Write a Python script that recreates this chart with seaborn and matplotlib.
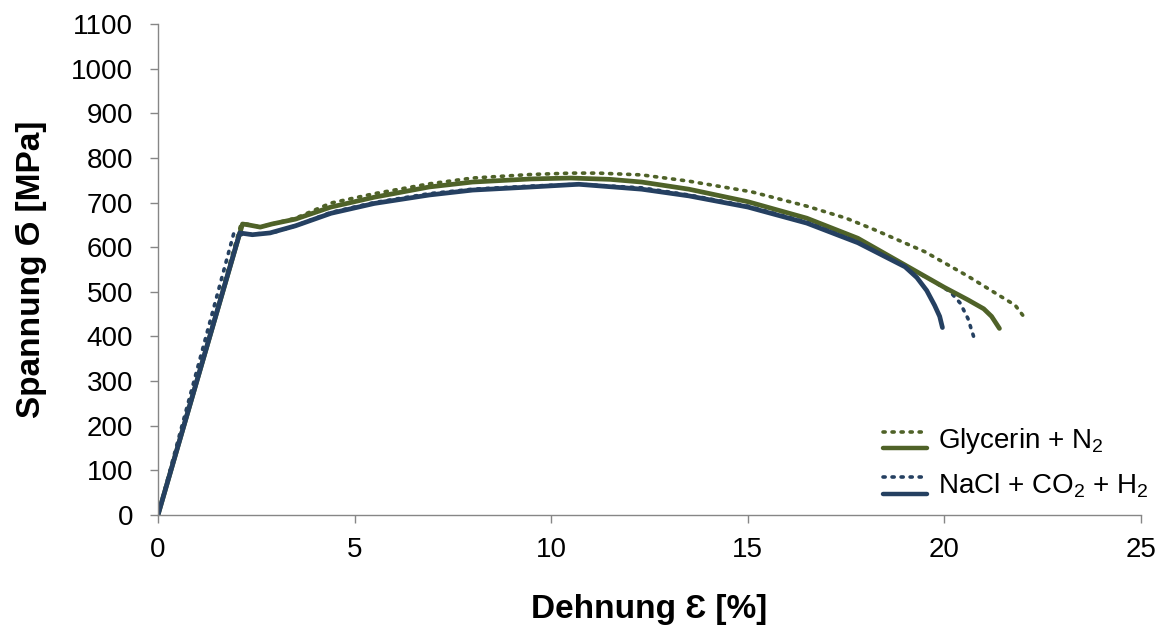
import numpy as np
import pandas as pd
import matplotlib
matplotlib.use('Agg')
import matplotlib.pyplot as plt
import seaborn as sns
from matplotlib.lines import Line2D
from matplotlib.legend_handler import HandlerBase

# Kurven (Dehnung in %, Spannung in MPa)
gly_dot_x = [0, 2.1, 2.25, 2.6, 2.9, 3.5, 4.4, 5.5, 6.9, 8.0, 9.5, 10.5, 11.2, 12.3, 13.5, 15.1, 16.5, 17.5, 18.2, 19.5, 20.6, 21.3, 21.8, 22.05]
gly_dot_y = [0, 648, 652, 645, 652, 665, 699, 720, 742, 755, 763, 766, 766, 762, 748, 724, 692, 665, 640, 590, 535, 497, 470, 441]

gly_sol_x = [0, 2.15, 2.3, 2.6, 2.9, 3.5, 4.4, 5.5, 6.9, 8.0, 9.5, 10.5, 11.5, 12.3, 13.5, 15.0, 16.5, 17.8, 19.0, 20.0, 20.6, 21.0, 21.2, 21.4]
gly_sol_y = [0, 652, 650, 645, 652, 663, 690, 712, 735, 746, 753, 755, 752, 746, 730, 702, 665, 620, 560, 510, 482, 462, 445, 418]

nacl_dot_x = [0, 1.93, 2.1, 2.9, 3.5, 4.4, 5.5, 6.9, 8.0, 9.5, 10.7, 12.3, 13.5, 15.0, 16.5, 17.8, 19.0, 19.7, 20.15, 20.4, 20.6, 20.75]
nacl_dot_y = [0, 632, 628, 632, 648, 678, 700, 720, 730, 737, 741, 733, 717, 692, 656, 612, 558, 525, 500, 475, 440, 398]

nacl_sol_x = [0, 2.08, 2.4, 2.85, 3.5, 4.4, 5.5, 6.9, 8.0, 9.5, 10.7, 12.3, 13.5, 15.0, 16.5, 17.8, 19.0, 19.3, 19.55, 19.75, 19.88, 19.95]
nacl_sol_y = [0, 632, 628, 632, 648, 676, 698, 717, 728, 735, 741, 730, 715, 690, 654, 610, 556, 532, 503, 470, 445, 420]

labels = ['Glycerin + N$_2$', 'NaCl + CO$_2$ + H$_2$']
green = '#4F6228'
blue = '#254061'
grey = '#868686'

sns.set_style('white')
plt.rcParams['font.family'] = ['Liberation Sans', 'DejaVu Sans']
plt.rcParams['mathtext.fontset'] = 'custom'
plt.rcParams['mathtext.rm'] = 'Liberation Sans'
plt.rcParams['mathtext.it'] = 'Liberation Sans'
plt.rcParams['text.color'] = 'black'
plt.rcParams['axes.labelcolor'] = 'black'

dots = (0, (0.6, 1.9))


class DoubleLine(HandlerBase):
    # punktierte Linie oben, durchgezogene unten (wie Excel-Legende)
    def create_artists(self, legend, orig_handle, xdescent, ydescent,
                       width, height, fontsize, trans):
        c = orig_handle.get_color()
        top = Line2D([-xdescent, width - xdescent], [height * 0.85, height * 0.85],
                     color=c, lw=2.6, linestyle=dots, dash_capstyle='round',
                     transform=trans)
        bot = Line2D([-xdescent, width - xdescent], [height * 0.0, height * 0.0],
                     color=c, lw=3.2, transform=trans)
        return [top, bot]


fig = plt.figure(figsize=(11.65, 6.29), dpi=100)
ax = fig.add_axes([0.1356, 0.1812, 0.8438, 0.7806])

sns.lineplot(x=gly_dot_x, y=gly_dot_y, sort=False, estimator=None, ax=ax,
             color=green, lw=2.6, linestyle=dots, dash_capstyle='round')
sns.lineplot(x=nacl_dot_x, y=nacl_dot_y, sort=False, estimator=None, ax=ax,
             color=blue, lw=2.6, linestyle=dots, dash_capstyle='round')
sns.lineplot(x=gly_sol_x, y=gly_sol_y, sort=False, estimator=None, ax=ax,
             color=green, lw=3.4)
sns.lineplot(x=nacl_sol_x, y=nacl_sol_y, sort=False, estimator=None, ax=ax,
             color=blue, lw=3.4)

ax.set_xlim(0, 25)
ax.set_ylim(0, 1100)
ax.set_xticks(range(0, 26, 5))
ax.set_yticks(range(0, 1101, 100))
ax.tick_params(axis='both', labelsize=20, length=6, width=1, color=grey,
               labelcolor='black', direction='out', left=True, bottom=True)
ax.tick_params(axis='x', pad=10)
ax.tick_params(axis='y', pad=12)
for side in ['top', 'right']:
    ax.spines[side].set_visible(False)
for side in ['left', 'bottom']:
    ax.spines[side].set_color(grey)
    ax.spines[side].set_linewidth(1)

ax.set_xlabel('Dehnung Ɛ [%]', fontsize=24, fontweight='bold', labelpad=22)
ax.set_ylabel('Spannung Ϭ [MPa]', fontsize=24, fontweight='bold', labelpad=17)

handles = [Line2D([], [], color=green), Line2D([], [], color=blue)]
ax.legend(handles, labels, handler_map={Line2D: DoubleLine()},
          loc='lower right', bbox_to_anchor=(0.986, 0.205),
          bbox_transform=fig.transFigure, frameon=False, fontsize=20,
          handlelength=1.6, handletextpad=0.4, labelspacing=0.55,
          borderpad=0, borderaxespad=0)

fig.savefig('out.png', dpi=100)
